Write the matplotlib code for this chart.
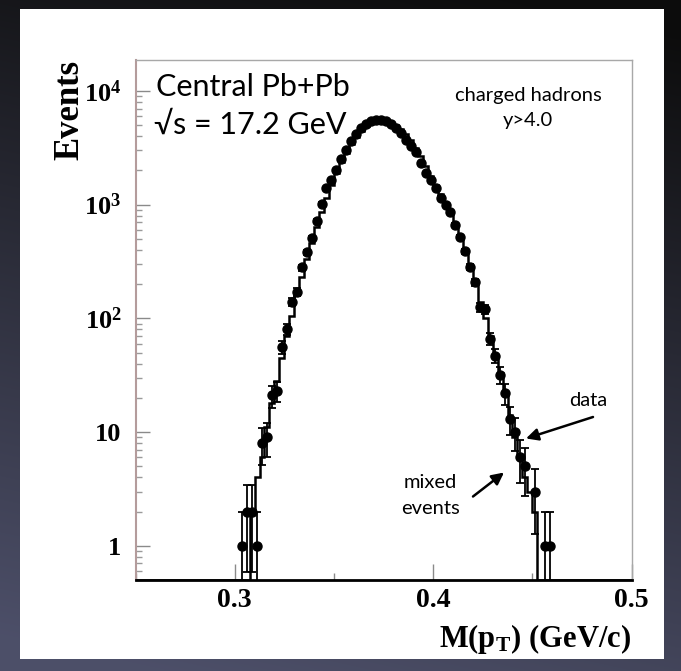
import numpy as np
import matplotlib
matplotlib.use("Agg")
import matplotlib.pyplot as plt
from matplotlib.patches import Rectangle
from matplotlib.ticker import FixedLocator, FixedFormatter, NullFormatter

plt.rcParams['mathtext.fontset'] = 'custom'
plt.rcParams['mathtext.rm'] = 'Liberation Serif:bold'
plt.rcParams['mathtext.bf'] = 'Liberation Serif:bold'
plt.rcParams['mathtext.it'] = 'Liberation Serif:bold'

# ---------------- data ----------------
data_x = [0.30375, 0.30625, 0.30875, 0.31125, 0.31375, 0.31625, 0.31875, 0.32125,
          0.32375, 0.32625, 0.32875, 0.33125, 0.33375, 0.33625, 0.33875, 0.34125,
          0.34375, 0.34625, 0.34875, 0.35125, 0.35375, 0.35625, 0.35875, 0.36125,
          0.36375, 0.36625, 0.36875, 0.37125, 0.37375, 0.37625, 0.37875, 0.38125,
          0.38375, 0.38625, 0.38875, 0.39125, 0.39375, 0.39625, 0.39875, 0.40125,
          0.40375, 0.40625, 0.40875, 0.41125, 0.41375, 0.41625, 0.41875, 0.42125,
          0.42375, 0.42625, 0.42875, 0.43125, 0.43375, 0.43625, 0.43875, 0.44125,
          0.44375, 0.44625, 0.45125, 0.45625, 0.45875]
data_y = [1, 2, 2, 1, 8, 9, 21, 23, 56, 80,
          140, 170, 280, 380, 510, 720, 1020, 1400, 1650, 2000,
          2500, 3000, 3600, 4200, 4700, 5100, 5400, 5500, 5500, 5400,
          5100, 4700, 4250, 3700, 3300, 2900, 2300, 1900, 1650, 1400,
          1150, 1000, 870, 660, 520, 390, 285, 208, 125, 120,
          66, 47, 32, 22, 13, 10, 6, 5, 3, 1, 1]

# mixed-event histogram (bin edges and contents)
hist_edges = [0.3075, 0.3100, 0.3125, 0.3150, 0.3175, 0.3200, 0.3225, 0.3250, 0.3275,
              0.3300, 0.3325, 0.3350, 0.3375, 0.3400, 0.3425, 0.3450, 0.3475, 0.3500,
              0.3525, 0.3550, 0.3575, 0.3600, 0.3625, 0.3650, 0.3675, 0.3700, 0.3725,
              0.3750, 0.3775, 0.3800, 0.3825, 0.3850, 0.3875, 0.3900, 0.3925, 0.3950,
              0.3975, 0.4000, 0.4025, 0.4050, 0.4075, 0.4100, 0.4125, 0.4150, 0.4175,
              0.4200, 0.4225, 0.4250, 0.4275, 0.4300, 0.4325, 0.4350, 0.4375, 0.4400,
              0.4425, 0.4450, 0.4475, 0.4500, 0.4525]
hist_vals = [2, 4, 6, 11, 18, 28, 45, 70, 105,
             160, 230, 330, 460, 640, 870, 1150, 1500, 1900,
             2350, 2850, 3400, 3950, 4450, 4900, 5250, 5450, 5550,
             5500, 5350, 5050, 4650, 4200, 3700, 3150, 2650, 2200,
             1800, 1500, 1250, 1000, 820, 640, 500, 380, 280,
             200, 140, 100, 70, 48, 33, 22, 14, 9,
             6, 4, 3, 2]

x_range = (0.25, 0.5)
y_range = (0.5, 1.87e4)
y_ticks = [1, 10, 100, 1000, 10000]
y_ticklabels = ['1', '10', r'$\mathbf{10^{2}}$', r'$\mathbf{10^{3}}$', r'$\mathbf{10^{4}}$']
x_major = [0.3, 0.4, 0.5]
x_minor = [0.25, 0.35, 0.45]
x_ticklabels = ['0.3', '0.4', '0.5']

# ---------------- figure ----------------
W, H = 681, 671
fig = plt.figure(figsize=(W / 100, H / 100), dpi=100)

# dark gradient background + white panel
bg = fig.add_axes([0, 0, 1, 1], zorder=-10)
yy, xx = np.mgrid[0:H, 0:W]
t = np.clip(0.9 * yy / H + 0.2 * (1 - xx / W) - 0.05, 0, 1)
c0 = np.array([0.05, 0.05, 0.05])
c1 = np.array([0.30, 0.31, 0.41])
img = c0[None, None, :] + (c1 - c0)[None, None, :] * t[..., None]
bg.imshow(img, extent=[0, W, H, 0], aspect='auto')
bg.add_patch(Rectangle((20, 9), 644, 650, facecolor='white', edgecolor='none'))
bg.set_xlim(0, W)
bg.set_ylim(H, 0)
bg.axis('off')

ax = fig.add_axes([135.5 / W, 1 - 580 / H, 496 / W, 520 / H])
ax.set_facecolor('white')
ax.set_yscale('log')
ax.set_xlim(*x_range)
ax.set_ylim(*y_range)

# histogram (mixed events)
edges = [x_range[0]] + hist_edges + [x_range[1]]
vals = [y_range[0]] + hist_vals + [y_range[0]]
ax.stairs(vals, edges, color='black', lw=1.8, baseline=None, zorder=3)

# data with poisson errors
dy = np.array(data_y, dtype=float)
err_hi = np.sqrt(dy)
err_lo = np.where(err_hi >= dy, dy - 1e-3, err_hi)
ax.errorbar(data_x, data_y, yerr=[err_lo, err_hi], fmt='o', ms=6.5, color='black',
            ecolor='black', elinewidth=1.3, capsize=3, capthick=1.3, zorder=4)

# spines
ax.spines['left'].set_color('#b49c9c')
ax.spines['left'].set_linewidth(1.5)
ax.spines['top'].set_color('#a8a8a8')
ax.spines['top'].set_linewidth(1.0)
ax.spines['right'].set_color('#a8a8a8')
ax.spines['right'].set_linewidth(1.0)
ax.spines['bottom'].set_color('black')
ax.spines['bottom'].set_linewidth(2.0)

# ticks
ax.yaxis.set_major_locator(FixedLocator(y_ticks))
ax.yaxis.set_major_formatter(FixedFormatter(y_ticklabels))
ax.yaxis.set_minor_formatter(NullFormatter())
ax.xaxis.set_major_locator(FixedLocator(x_major))
ax.xaxis.set_major_formatter(FixedFormatter(x_ticklabels))
ax.xaxis.set_minor_locator(FixedLocator(x_minor))
ax.tick_params(axis='y', which='major', direction='in', length=10, width=1,
               color='#8a8a8a', pad=10)
ax.tick_params(axis='y', which='minor', direction='in', length=4.3, width=1,
               color='#9a9a9a')
ax.tick_params(axis='x', which='major', direction='in', length=11.5, width=1,
               color='#8a8a8a', pad=6)
ax.tick_params(axis='x', which='minor', direction='in', length=5, width=1,
               color='#8a8a8a')
for lbl in ax.get_xticklabels():
    lbl.set_fontfamily('Liberation Serif')
    lbl.set_fontweight('bold')
    lbl.set_fontsize(20)
for lbl in ax.get_yticklabels():
    lbl.set_fontfamily('Liberation Serif')
    lbl.set_fontweight('bold')
    lbl.set_fontsize(19)

def fx(x):
    return x / W

def fy(y):
    return 1 - y / H

sans = ['Lato', 'DejaVu Sans']
fig.text(fx(631.5), fy(622), r'$\mathbf{M(p_{T})\ (GeV/c)}$', ha='right', va='top',
         fontsize=22)
fig.text(fx(70), fy(60), 'Events', rotation=90, ha='center', va='top',
         family='Liberation Serif', weight='bold', fontsize=25)

fig.text(fx(156), fy(96), 'Central Pb+Pb', ha='left', va='baseline',
         family=sans, fontsize=22)
fig.text(fx(154), fy(134), '\u221As = 17.2 GeV', ha='left', va='baseline',
         family=sans, fontsize=22)
fig.text(fx(528), fy(101), 'charged hadrons', ha='center', va='baseline',
         family=sans, fontsize=14.5)
fig.text(fx(528), fy(126), 'y>4.0', ha='center', va='baseline',
         family=sans, fontsize=14.5)
fig.text(fx(588), fy(400), 'data', ha='center', va='center',
         family=sans, fontsize=14.5)
fig.text(fx(430), fy(483), 'mixed', ha='center', va='center',
         family=sans, fontsize=14.5)
fig.text(fx(430), fy(509), 'events', ha='center', va='center',
         family=sans, fontsize=14.5)

arrow = dict(arrowstyle='-|>', lw=1.8, color='black', mutation_scale=18,
             shrinkA=0, shrinkB=0)
ax.annotate('', xy=(526, H - 438.5), xytext=(593, H - 417),
            xycoords='figure pixels', textcoords='figure pixels', arrowprops=arrow)
ax.annotate('', xy=(504, H - 472.5), xytext=(473, H - 496.5),
            xycoords='figure pixels', textcoords='figure pixels', arrowprops=arrow)

fig.savefig('out.png', dpi=100)
